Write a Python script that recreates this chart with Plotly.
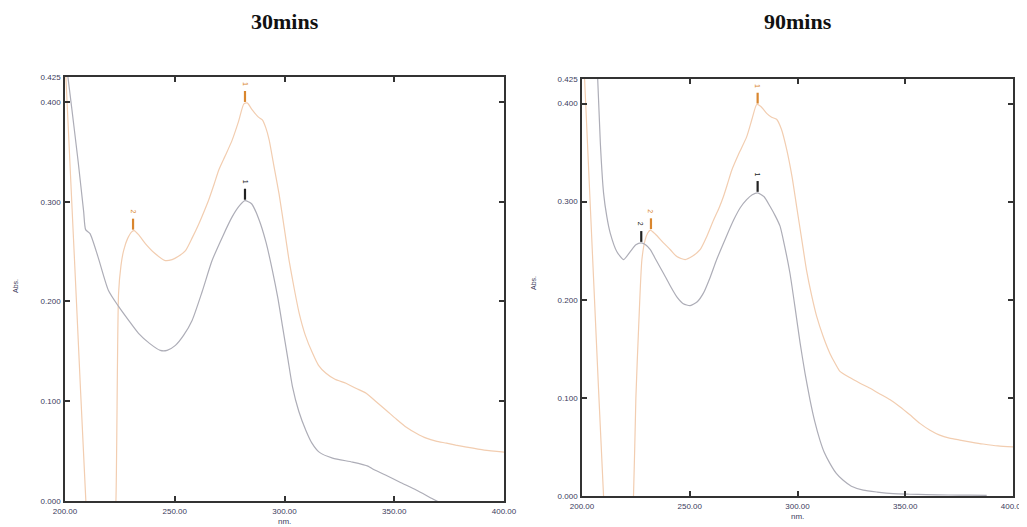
import plotly.graph_objects as go

# ---------------- data ----------------
# 30 mins, gray (black) trace
x30_gray = [200.5, 203.0, 206.0, 208.5, 209.4, 211.4, 215.0, 219.8, 224.4, 229.0, 233.5, 238.5, 243.4,
            246.5, 250.3, 254.0, 257.9, 262.5, 267.0, 272.0, 276.2, 279.5, 282.0, 285.0, 288.4, 291.5,
            294.5, 297.0, 299.1, 301.5, 303.6, 306.5, 309.7, 312.5, 315.8, 321.9, 331.0, 338.0, 340.2,
            346.0, 352.4, 360.0, 367.6, 372.0]
y30_gray = [0.440, 0.395, 0.340, 0.290, 0.272, 0.268, 0.245, 0.211, 0.195, 0.181, 0.168, 0.158, 0.151,
            0.151, 0.156, 0.166, 0.181, 0.210, 0.241, 0.266, 0.285, 0.296, 0.301, 0.298, 0.282, 0.260,
            0.231, 0.203, 0.175, 0.143, 0.115, 0.090, 0.071, 0.058, 0.049, 0.043, 0.039, 0.035, 0.032,
            0.026, 0.019, 0.011, 0.002, -0.003]
# 30 mins, orange trace
x30_orange = [200.3, 205.0, 209.5, 211.0, 222.0, 223.2, 224.4, 225.5, 226.7, 228.5, 230.5, 231.5, 233.5,
              236.6, 241.0, 245.7, 248.8, 251.5, 254.9, 258.0, 261.0, 263.5, 265.5, 268.0, 270.1, 273.0,
              276.2, 279.0, 281.5, 283.0, 285.3, 288.0, 289.9, 291.5, 293.0, 295.0, 297.5, 300.0, 302.1,
              304.5, 306.7, 309.5, 312.8, 315.5, 318.9, 323.0, 328.0, 332.5, 337.2, 341.5, 346.3, 351.0,
              355.5, 360.0, 364.6, 369.0, 373.8, 378.0, 382.9, 391.0, 400.0]
y30_orange = [0.430, 0.210, 0.000, -0.050, -0.050, 0.000, 0.208, 0.236, 0.251, 0.263, 0.270, 0.271, 0.267,
              0.258, 0.248, 0.241, 0.242, 0.245, 0.251, 0.264, 0.278, 0.291, 0.302, 0.318, 0.332, 0.346,
              0.362, 0.380, 0.398, 0.399, 0.392, 0.385, 0.382, 0.374, 0.362, 0.338, 0.308, 0.272, 0.241,
              0.212, 0.188, 0.166, 0.148, 0.136, 0.128, 0.122, 0.118, 0.113, 0.108, 0.100, 0.091, 0.082,
              0.074, 0.068, 0.063, 0.060, 0.058, 0.056, 0.054, 0.051, 0.049]

# 90 mins, gray (black) trace
x90_gray = [207.0, 208.5, 210.0, 211.5, 213.1, 216.2, 219.3, 222.4, 225.0, 227.5, 229.5, 231.7, 234.5,
            237.8, 241.0, 244.0, 247.0, 250.2, 253.5, 256.4, 259.5, 262.5, 266.5, 270.3, 273.5, 276.4,
            279.0, 281.5, 284.5, 287.3, 289.8, 291.9, 294.0, 296.5, 299.0, 301.2, 303.5, 305.8, 308.0,
            310.4, 312.5, 315.1, 318.0, 321.2, 325.0, 330.5, 337.0, 344.4, 352.0, 359.8, 370.0, 380.0,
            387.8]
y90_gray = [0.440, 0.360, 0.309, 0.285, 0.268, 0.249, 0.241, 0.249, 0.256, 0.258, 0.256, 0.251, 0.240,
            0.227, 0.214, 0.203, 0.196, 0.194, 0.198, 0.207, 0.223, 0.241, 0.262, 0.281, 0.294, 0.302,
            0.307, 0.309, 0.305, 0.295, 0.285, 0.275, 0.255, 0.227, 0.190, 0.156, 0.125, 0.098, 0.076,
            0.057, 0.044, 0.033, 0.023, 0.016, 0.010, 0.006, 0.004, 0.0024, 0.0018, 0.0014, 0.0010,
            0.0008, 0.0007]
# 90 mins, orange trace
x90_orange = [201.1, 205.5, 210.0, 211.5, 222.5, 223.9, 225.0, 226.3, 227.8, 229.3, 230.5, 231.7, 234.0,
              237.8, 241.0, 244.0, 247.9, 251.0, 254.8, 258.0, 261.0, 263.5, 265.6, 267.5, 269.5, 273.0,
              276.4, 279.0, 281.1, 283.0, 285.7, 288.0, 290.3, 292.5, 295.0, 297.5, 299.6, 302.0, 304.2,
              306.5, 308.9, 312.0, 315.1, 317.5, 319.7, 324.0, 329.0, 333.5, 338.2, 343.0, 347.5, 352.0,
              356.8, 361.5, 366.0, 370.5, 375.3, 380.5, 386.1, 393.0, 400.0]
y90_orange = [0.430, 0.215, 0.000, -0.050, -0.050, 0.000, 0.100, 0.173, 0.241, 0.261, 0.268, 0.271, 0.267,
              0.258, 0.251, 0.244, 0.241, 0.244, 0.251, 0.265, 0.281, 0.293, 0.305, 0.318, 0.332, 0.350,
              0.366, 0.385, 0.399, 0.397, 0.390, 0.386, 0.384, 0.374, 0.353, 0.325, 0.295, 0.261, 0.230,
              0.205, 0.183, 0.162, 0.145, 0.135, 0.127, 0.121, 0.115, 0.110, 0.104, 0.098, 0.091, 0.083,
              0.074, 0.067, 0.062, 0.059, 0.057, 0.055, 0.053, 0.051, 0.050]

# peak picks: (wavelength, absorbance, label)
peaks30_gray = [(282.0, 0.302, "1")]
peaks30_orange = [(282.0, 0.400, "1"), (231.0, 0.272, "2")]
peaks90_gray = [(281.5, 0.310, "1"), (227.5, 0.259, "2")]
peaks90_orange = [(281.5, 0.400, "1"), (232.0, 0.272, "2")]

titles = ["30mins", "90mins"]
x_ticks = [200, 250, 300, 350, 400]
x_tick_text = ["200.00", "250.00", "300.00", "350.00", "400.00"]
y_ticks = [0.0, 0.1, 0.2, 0.3, 0.4, 0.425]
y_tick_text = ["0.000", "0.100", "0.200", "0.300", "0.400", "0.425"]

# ---------------- styling ----------------
GRAY = "#adadb7"
ORANGE = "#f2cdb0"
GRAY_MARK = "#222222"
ORANGE_MARK = "#d9862e"
TICK_COL = "#3b3b5c"
OFF = 8                       # page body margin
W, H = 1027 - OFF, 527 - OFF


def px_x(v):
    return (v - OFF) / W


def px_y(v):
    return 1 - (v - OFF) / H


fig = go.Figure()

panels = [
    dict(xa="x", ya="y", gray=(x30_gray, y30_gray), orange=(x30_orange, y30_orange),
         pg=peaks30_gray, po=peaks30_orange, abs_x=15,
         xdom=[px_x(65), px_x(504)], ydom=[px_y(501), px_y(77)]),
    dict(xa="x2", ya="y2", gray=(x90_gray, y90_gray), orange=(x90_orange, y90_orange),
         pg=peaks90_gray, po=peaks90_orange, abs_x=533,
         xdom=[px_x(582), px_x(1013)], ydom=[px_y(496), px_y(79)]),
]

annotations = []
for i, p in enumerate(panels):
    fig.add_trace(go.Scatter(x=p["orange"][0], y=p["orange"][1], mode="lines",
                             line=dict(color=ORANGE, width=1.2, shape="spline", smoothing=0.6),
                             xaxis=p["xa"], yaxis=p["ya"], hoverinfo="skip", showlegend=False))
    fig.add_trace(go.Scatter(x=p["gray"][0], y=p["gray"][1], mode="lines",
                             line=dict(color=GRAY, width=1.2, shape="spline", smoothing=0.6),
                             xaxis=p["xa"], yaxis=p["ya"], hoverinfo="skip", showlegend=False))
    for peaks, col in ((p["pg"], GRAY_MARK), (p["po"], ORANGE_MARK)):
        for (pxv, pyv, lab) in peaks:
            fig.add_trace(go.Scatter(x=[pxv, pxv], y=[pyv, pyv + 0.011], mode="lines",
                                     line=dict(color=col, width=2.2),
                                     xaxis=p["xa"], yaxis=p["ya"], hoverinfo="skip",
                                     showlegend=False))
            annotations.append(dict(x=pxv, y=pyv + 0.011, xref=p["xa"], yref=p["ya"],
                                    text=lab, showarrow=False, textangle=90,
                                    yanchor="bottom", yshift=3,
                                    font=dict(family="Liberation Sans", size=7, color=col)))
    xc = (p["xdom"][0] + p["xdom"][1]) / 2
    annotations.append(dict(x=xc, y=px_y(21), xref="paper", yref="paper", text="<b>%s</b>" % titles[i],
                            showarrow=False, xanchor="center", yanchor="middle",
                            font=dict(family="Liberation Serif", size=22, color="#111111")))
    annotations.append(dict(x=xc, y=p["ydom"][0], xref="paper", yref="paper", text="nm.",
                            showarrow=False, xanchor="center", yanchor="middle", yshift=-20,
                            font=dict(family="Liberation Sans", size=8, color=TICK_COL)))
    annotations.append(dict(x=px_x(p["abs_x"]), y=px_y(286 if i == 0 else 283), xref="paper",
                            yref="paper", text="Abs.", showarrow=False, textangle=-90,
                            xanchor="center", yanchor="middle",
                            font=dict(family="Liberation Sans", size=7, color=TICK_COL)))

axis_common = dict(showgrid=False, zeroline=False, showline=True, linecolor="#333333", linewidth=1.5,
                   mirror="allticks", ticks="inside", ticklen=5, tickwidth=1.5, tickcolor="#333333",
                   tickfont=dict(family="Liberation Sans", size=8, color=TICK_COL), fixedrange=True,
                   automargin=False)

layout_axes = {}
for i, p in enumerate(panels):
    suffix = "" if i == 0 else "2"
    layout_axes["xaxis" + suffix] = dict(axis_common, domain=p["xdom"], range=[200, 400],
                                         tickmode="array", tickvals=x_ticks, ticktext=x_tick_text,
                                         anchor="y" + suffix, ticklabelstandoff=2)
    layout_axes["yaxis" + suffix] = dict(axis_common, domain=p["ydom"], range=[0, 0.425],
                                         tickmode="array", tickvals=y_ticks, ticktext=y_tick_text,
                                         anchor="x" + suffix, ticklabelstandoff=1)

fig.update_layout(width=W, height=H, margin=dict(l=0, r=0, t=0, b=0, autoexpand=False),
                  paper_bgcolor="white", plot_bgcolor="white", annotations=annotations,
                  **layout_axes)

fig.write_html("out.html")
